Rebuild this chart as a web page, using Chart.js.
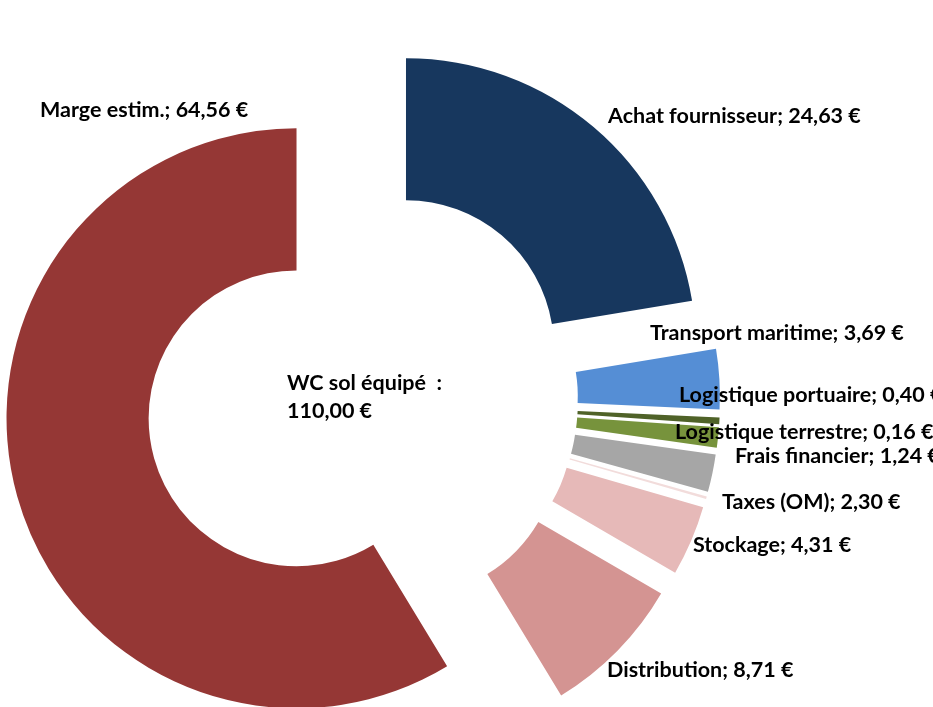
<!DOCTYPE html>
<html lang="fr">
<head>
<meta charset="utf-8">
<title>WC sol équipé</title>
<script src="https://cdn.jsdelivr.net/npm/chart.js@4"></script>
<style>
  html, body { margin: 0; padding: 0; background: #fff; }
  #wrap { width: 933px; height: 707px; }
</style>
</head>
<body>
<div id="wrap"><canvas id="chart" width="933" height="707"></canvas></div>
<script>
// ─── données (ordre des parts, sens horaire depuis midi) ───
const CATEGORIES = [
  'Achat fournisseur', 'Transport maritime', 'Logistique portuaire',
  'Frais financier', 'Taxes (OM)', 'Logistique terrestre',
  'Stockage', 'Distribution', 'Marge estim.'
];
const VALUES = [24.63, 3.69, 0.40, 1.24, 2.30, 0.16, 4.31, 8.71, 64.56];
const CENTER_TEXT = ['WC sol équipé  :', '110,00 €'];

// ─── style ───
const COLORS = ['#17375E', '#558ED5', '#4F6228', '#77933C', '#A6A6A6',
                '#F2DCDB', '#E6B9B8', '#D49492', '#953735'];
// position des étiquettes (gauche, milieu) – placées à la main comme dans Excel
const LABEL_POS = [[608, 116], [650, 333], [679, 395], [735, 456], [722, 502],
                   [675, 432], [693, 545], [607, 670], [40, 110]];
const EXPLODE = 68;   // éclatement des parts (px)
const FONT = 'bold 21.5px Lato';

const fmt = v => v.toFixed(2).replace('.', ',');

// parts éclatées : décalage constant le long de l'angle médian
const arcDraw = Chart.ArcElement.prototype.draw;
Chart.ArcElement.prototype.draw = function (ctx) {
  const mid = (this.startAngle + this.endAngle) / 2;
  ctx.save();
  ctx.translate(Math.cos(mid) * EXPLODE, Math.sin(mid) * EXPLODE);
  arcDraw.call(this, ctx);
  ctx.restore();
};

const labelPlugin = {
  id: 'sliceLabels',
  afterDraw(chart) {
    const ctx = chart.ctx;
    ctx.save();
    ctx.font = FONT;
    ctx.fillStyle = '#000';
    ctx.textAlign = 'left';
    ctx.textBaseline = 'middle';
    CATEGORIES.forEach((c, i) => {
      ctx.fillText(c + '; ' + fmt(VALUES[i]) + ' €', LABEL_POS[i][0], LABEL_POS[i][1]);
    });
    CENTER_TEXT.forEach((t, i) => ctx.fillText(t, 287, 383 + i * 28));
    ctx.restore();
  }
};

new Chart(document.getElementById('chart'), {
  type: 'doughnut',
  data: {
    labels: CATEGORIES,
    datasets: [{
      data: VALUES,
      backgroundColor: COLORS,
      borderWidth: 0,
      clip: false
    }]
  },
  options: {
    responsive: false,
    animation: false,
    radius: 290,
    cutout: '51%',
    layout: { padding: { left: 0, right: 209, top: 93, bottom: 0 } },
    plugins: {
      legend: { display: false },
      tooltip: { enabled: false }
    }
  },
  plugins: [labelPlugin]
});
</script>
</body>
</html>
